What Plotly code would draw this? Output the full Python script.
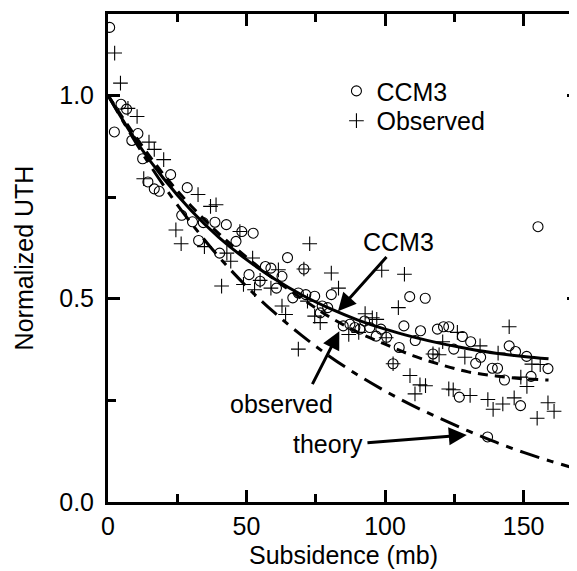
import plotly.graph_objects as go

# ---------------- data ----------------
ccm3_x = [0.6, 2.3, 4.7, 6.7, 8.6, 10.8, 12.5, 14.4, 16.7, 18.5, 22.6, 28.6, 26.6, 30.5, 34.4,
          38.6, 42.7, 32.7, 46.2, 48.3, 52.4, 40.3, 50.9, 54.9, 56.8, 58.8, 64.8, 62.8, 60.8, 66.7,
          68.7, 71.4, 70.7, 74.6, 80.6, 77.3, 79.3, 76.6, 84.9, 87.3, 89.1, 90.9, 92.6, 94.5, 98.5,
          100.6, 96.8, 102.9, 105.1, 106.8, 108.9, 114.5, 110.9, 112.8, 117.3, 118.9, 121.1, 123.0, 124.8, 127.9,
          130.9, 132.7, 134.5, 126.8, 138.7, 140.6, 143.1, 144.8, 147.1, 151.1, 152.7, 155.2, 158.8, 148.9, 137.0]
ccm3_y = [1.167, 0.91, 0.978, 0.966, 0.889, 0.906, 0.844, 0.787, 0.770, 0.764, 0.805, 0.773, 0.705, 0.689, 0.687,
          0.688, 0.682, 0.643, 0.641, 0.665, 0.661, 0.612, 0.559, 0.543, 0.579, 0.575, 0.601, 0.555, 0.526, 0.502,
          0.514, 0.510, 0.573, 0.506, 0.510, 0.482, 0.478, 0.465, 0.433, 0.437, 0.429, 0.425, 0.445, 0.429, 0.425,
          0.405, 0.408, 0.340, 0.380, 0.433, 0.505, 0.501, 0.397, 0.421, 0.364, 0.425, 0.431, 0.431, 0.376, 0.407,
          0.394, 0.341, 0.356, 0.258, 0.329, 0.329, 0.300, 0.384, 0.370, 0.358, 0.309, 0.677, 0.328, 0.237, 0.160]

obs_x = [2.4, 4.5, 7.2, 10.5, 14.8, 16.7, 20.1, 12.9, 32.5, 37.0, 39.0, 24.5, 26.4, 34.8, 42.9,
         44.3, 47.6, 52.2, 41.0, 48.9, 52.9, 54.9, 58.8, 61.5, 70.7, 72.8, 80.6, 83.2, 72.0, 62.8,
         64.1, 74.6, 76.6, 68.7, 86.9, 90.5, 92.8, 95.4, 97.0, 98.8, 107.0, 104.8, 100.4, 102.9, 117.3,
         119.5, 120.8, 126.1, 128.8, 134.3, 140.8, 144.8, 153.0, 156.0, 149.0, 151.2, 109.0, 112.6, 114.6, 110.8,
         123.0, 124.6, 130.7, 137.1, 139.0, 142.5, 146.6, 154.9, 158.8, 161.0]
obs_y = [1.104, 1.030, 0.968, 0.948, 0.885, 0.867, 0.842, 0.795, 0.756, 0.727, 0.731, 0.669, 0.635, 0.628, 0.612,
         0.592, 0.665, 0.600, 0.531, 0.535, 0.522, 0.545, 0.526, 0.571, 0.573, 0.635, 0.563, 0.526, 0.494, 0.482,
         0.461, 0.457, 0.441, 0.376, 0.412, 0.417, 0.463, 0.453, 0.449, 0.570, 0.560, 0.478, 0.404, 0.340, 0.364,
         0.362, 0.394, 0.417, 0.356, 0.384, 0.366, 0.431, 0.339, 0.338, 0.307, 0.284, 0.311, 0.288, 0.286, 0.266,
         0.278, 0.276, 0.262, 0.252, 0.228, 0.241, 0.256, 0.206, 0.244, 0.223]

fit_x = [0, 10, 20, 30, 40, 50, 60, 70, 80, 90, 100, 110, 120, 130, 140, 150, 159]
ccm3_fit_y = [1.0, 0.889, 0.796, 0.717, 0.651, 0.596, 0.549, 0.509, 0.476, 0.448, 0.425, 0.406,
              0.390, 0.377, 0.366, 0.358, 0.352]
obs_fit_y = [1.0, 0.898, 0.806, 0.728, 0.660, 0.602, 0.548, 0.500, 0.455, 0.418, 0.388, 0.360,
             0.338, 0.320, 0.310, 0.303, 0.300]

theory_x = [0, 10, 20, 30, 40, 50, 60, 70, 80, 90, 100, 110, 120, 130, 140, 150, 160, 170]
theory_y = [1.0, 0.884, 0.779, 0.686, 0.603, 0.530, 0.466, 0.409, 0.358, 0.313, 0.273, 0.237,
            0.205, 0.175, 0.147, 0.122, 0.100, 0.080]

x_tick_vals = [0, 50, 100, 150]
x_minor_vals = [25, 75, 125]
y_tick_vals = [0.0, 0.5, 1.0]
y_minor_vals = [0.25, 0.75]

FONT = "Liberation Sans, Arial, Helvetica, sans-serif"
FS = 25

fig = go.Figure()

fig.add_trace(go.Scatter(x=fit_x, y=ccm3_fit_y, mode="lines", line=dict(color="black", width=3, shape="spline"),
                         showlegend=False, hoverinfo="skip"))
fig.add_trace(go.Scatter(x=fit_x, y=obs_fit_y, mode="lines",
                         line=dict(color="black", width=3, dash="10px,7px", shape="spline"),
                         showlegend=False, hoverinfo="skip"))
fig.add_trace(go.Scatter(x=theory_x, y=theory_y, mode="lines",
                         line=dict(color="black", width=3, dash="20px,8px,7px,8px", shape="spline"),
                         showlegend=False, hoverinfo="skip"))

fig.add_trace(go.Scatter(x=ccm3_x, y=ccm3_y, mode="markers", name="CCM3", legend="legend",
                         marker=dict(symbol="circle-open", size=10, color="black", line=dict(width=1.1, color="black"))))
fig.add_trace(go.Scatter(x=obs_x, y=obs_y, mode="markers", name="Observed", legend="legend2",
                         marker=dict(symbol="cross-thin-open", size=10.5, color="black", line=dict(width=1.1, color="black"))))

# annotations: text labels and arrows
fig.add_annotation(x=105, y=0.640, text="CCM3", showarrow=False, font=dict(size=FS))
fig.add_annotation(x=83.0, y=0.469, ax=101, ay=0.606, axref="x", ayref="y", text="", showarrow=True,
                   arrowhead=2, arrowsize=1.2, arrowwidth=3, arrowcolor="black")
fig.add_annotation(x=62.5, y=0.242, text="observed", showarrow=False, font=dict(size=FS))
fig.add_annotation(x=83.5, y=0.420, ax=73.5, ay=0.286, axref="x", ayref="y", text="", showarrow=True,
                   arrowhead=2, arrowsize=1.2, arrowwidth=3, arrowcolor="black")
fig.add_annotation(x=79.3, y=0.142, text="theory", showarrow=False, font=dict(size=FS))
fig.add_annotation(x=129.5, y=0.165, ax=93.1, ay=0.1455, axref="x", ayref="y", text="", showarrow=True,
                   arrowhead=2, arrowsize=1.2, arrowwidth=3, arrowcolor="black")

axis_common = dict(showgrid=False, zeroline=False, ticks="inside", ticklen=12, tickwidth=3, tickcolor="black",
                   tickfont=dict(size=FS, family=FONT, color="black"), showline=True, linewidth=3,
                   linecolor="black", mirror="ticks")

legend_common = dict(xanchor="left", yanchor="top", bgcolor="rgba(0,0,0,0)", font=dict(size=FS),
                     itemwidth=30, tracegroupgap=0)

fig.update_layout(
    width=577, height=571,
    margin=dict(l=100, r=3, t=3, b=77),
    plot_bgcolor="white", paper_bgcolor="white",
    font=dict(family=FONT, size=FS, color="black"),
    legend=dict(x=0.485, y=0.889, **legend_common),
    legend2=dict(x=0.485, y=0.828, **legend_common),
    xaxis=dict(range=[0, 170], tickvals=x_tick_vals,
               minor=dict(tickvals=x_minor_vals, ticks="inside", ticklen=8, tickwidth=3, tickcolor="black",
                          showgrid=False),
               title=dict(text="Subsidence (mb)", font=dict(size=FS), standoff=8),
               **axis_common),
    yaxis=dict(range=[0, 1.2], tickvals=y_tick_vals, tickformat=".1f", ticklabelstandoff=6,
               minor=dict(tickvals=y_minor_vals, ticks="inside", ticklen=8, tickwidth=3, tickcolor="black",
                          showgrid=False),
               title=dict(text="Normalized UTH", font=dict(size=FS), standoff=19),
               **axis_common),
)

fig.write_html("out.html")
